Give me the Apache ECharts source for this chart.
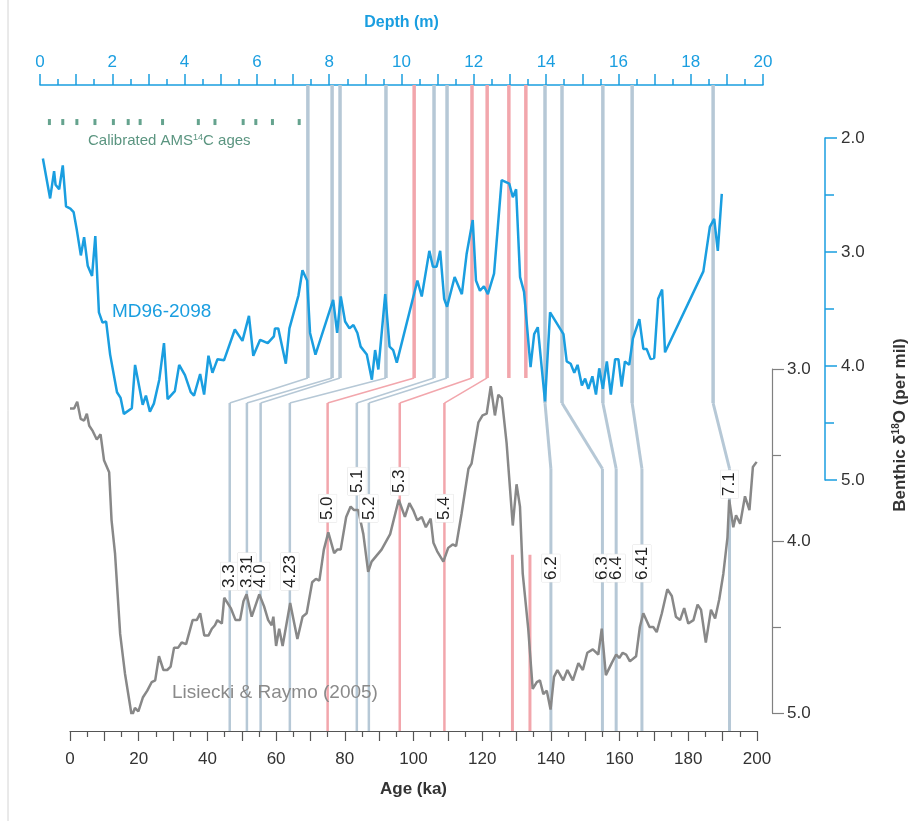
<!DOCTYPE html>
<html>
<head>
<meta charset="utf-8">
<script src="https://cdn.jsdelivr.net/npm/echarts@6/dist/echarts.min.js"></script>
<style>
  html, body { margin: 0; padding: 0; background: #fff; }
  #chart { width: 916px; height: 821px; }
</style>
</head>
<body>
<div id="chart"></div>
<script>
// MD96-2098 benthic d18O against core depth (m)
const mdDepth = [0.08,0.28,0.39,0.43,0.53,0.63,0.72,0.84,0.93,1.02,
  1.13,1.22,1.32,1.44,1.53,1.63,1.73,1.83,1.94,2.13,
  2.23,2.32,2.54,2.63,2.84,2.93,3.04,3.15,3.30,3.43,
  3.53,3.73,3.85,4.01,4.17,4.26,4.43,4.54,4.66,4.77,
  4.91,5.09,5.39,5.60,5.78,5.90,6.09,6.30,6.47,6.50,
  6.59,6.80,6.90,7.15,7.26,7.39,7.47,7.62,8.11,8.22,
  8.32,8.44,8.56,8.67,8.78,8.87,9.04,9.18,9.27,9.36,
  9.55,9.67,9.77,9.87,10.44,10.56,10.77,10.87,10.97,11.07,
  11.18,11.26,11.47,11.67,11.80,11.97,12.06,12.17,12.28,12.39,
  12.56,12.77,12.98,13.08,13.17,13.28,13.39,13.57,13.67,13.77,
  13.97,14.11,14.48,14.57,14.68,14.78,14.87,14.99,15.08,15.17,
  15.28,15.38,15.47,15.57,15.68,15.79,15.91,16.00,16.09,16.18,
  16.30,16.40,16.58,16.69,16.78,16.89,16.99,17.10,17.21,17.29,
  18.35,18.53,18.65,18.75,18.86]
const mdD18O = [2.18,2.53,2.29,2.41,2.45,2.24,2.60,2.62,2.65,2.81,
  3.03,2.87,3.12,3.21,2.86,3.53,3.62,3.61,3.90,4.23,
  4.28,4.42,4.37,3.99,4.34,4.26,4.40,4.33,4.12,3.80,
  4.29,4.22,3.99,4.08,4.23,4.26,4.07,4.25,3.91,4.06,
  3.94,3.95,3.68,3.78,3.56,3.91,3.77,3.80,3.74,3.67,
  3.67,3.98,3.67,3.38,3.16,3.25,3.71,3.90,3.42,3.71,
  3.39,3.61,3.67,3.64,3.71,3.83,3.90,4.12,3.86,4.03,
  3.37,3.83,3.86,3.97,3.25,3.39,2.99,3.13,3.13,2.99,
  3.41,3.48,3.22,3.37,3.02,2.72,3.25,3.34,3.30,3.37,
  3.19,2.37,2.40,2.52,2.45,3.22,3.35,4.01,3.72,3.66,
  4.31,3.53,3.72,3.96,3.98,4.06,3.99,4.17,4.11,4.20,
  4.09,4.25,4.02,4.20,3.96,4.25,3.94,3.94,4.18,3.96,
  3.99,3.76,3.59,3.85,3.85,3.94,3.93,3.41,3.33,3.88,
  3.17,2.78,2.71,2.99,2.49]

// Lisiecki & Raymo (2005) stack against age (ka)
const lrAge = [0,1.2,2.1,3.1,4.1,4.9,5.6,6.6,7.8,8.9,
  9.9,11.4,12.1,13.1,14.6,16.0,18.0,18.9,19.9,21.2,
  22.5,23.8,24.8,25.9,27.2,28.3,29.3,30.3,31.5,32.5,
  33.8,35.7,36.9,37.9,39.1,40.3,41.3,42.2,42.9,44.2,
  44.9,46.8,48.2,49.5,50.5,51.4,52.9,55.1,56.5,57.7,
  58.7,59.2,60.0,60.9,61.9,64.1,65.0,66.2,67.7,68.9,
  70.5,71.6,72.6,73.9,75.2,76.9,77.8,78.8,80.4,81.7,
  82.7,83.9,85.4,86.8,87.8,90.7,93.2,95.7,97.5,98.8,
  99.9,101.1,102.4,103.6,105.0,105.8,106.9,108.7,110.1,111.4,
  112.4,114.0,116.0,116.9,118.9,120.1,121.3,122.5,123.7,124.7,
  125.7,127.1,128.9,130.0,131.0,131.8,133.4,134.7,135.9,136.8,
  137.8,138.8,139.9,140.9,141.9,143.6,144.8,146.4,148.0,149.3,
  150.6,152.2,153.8,154.8,156.0,157.7,159.0,159.9,160.9,161.9,
  163.0,164.8,165.9,166.9,168.7,169.8,170.8,172.3,173.9,175.2,
  176.4,177.6,178.8,180.0,181.5,182.7,183.7,185.1,186.6,187.8,
  189.0,190.2,191.4,191.9,193.1,193.9,195.1,196.5,197.8,198.8,
  199.9]
const lrD18O = [3.23,3.23,3.19,3.29,3.30,3.26,3.33,3.36,3.41,3.38,
  3.53,3.60,3.88,4.07,4.54,4.77,5.02,4.97,4.99,4.91,
  4.87,4.82,4.81,4.67,4.75,4.75,4.73,4.62,4.62,4.59,
  4.60,4.46,4.46,4.42,4.55,4.55,4.51,4.49,4.46,4.48,
  4.33,4.39,4.46,4.46,4.35,4.31,4.44,4.31,4.38,4.46,
  4.49,4.44,4.61,4.51,4.61,4.36,4.45,4.57,4.44,4.42,
  4.24,4.22,4.23,4.05,3.95,4.07,4.05,4.05,3.86,3.80,
  3.82,3.82,3.96,4.18,4.12,4.05,3.96,3.76,3.86,3.78,
  3.82,3.88,3.86,3.92,3.87,4.01,4.06,4.12,4.04,4.02,
  4.03,3.84,3.58,3.55,3.31,3.27,3.26,3.10,3.27,3.15,
  3.17,3.43,3.91,3.67,3.80,4.19,4.51,4.86,4.82,4.81,
  4.89,4.87,4.98,4.79,4.75,4.81,4.75,4.81,4.71,4.75,
  4.65,4.63,4.66,4.51,4.78,4.71,4.66,4.68,4.65,4.66,
  4.70,4.67,4.50,4.42,4.50,4.50,4.53,4.42,4.28,4.32,
  4.44,4.46,4.39,4.48,4.46,4.37,4.40,4.59,4.40,4.45,
  4.34,4.19,3.98,3.76,3.92,3.85,3.90,3.74,3.82,3.57,
  3.54]

// calibrated AMS 14C age depths (m)
const amsDepth = [0.26,0.63,1.02,1.52,2.03,2.44,2.77,3.39,4.38,4.84,5.62,5.97,6.43,7.17]

// tie points: depth in core -> age in LR04, with MIS event names
const tieDepth = [7.41,8.08,8.30,9.57,10.35,10.90,11.26,11.95,12.37,13.97,14.44,15.57,16.38,18.62]
const tieAge = [46.5,51.5,55.5,64,75,83.5,87,96,109,140,155,159,166.5,192]
const tieName = ['3.3','3.31','4.0','4.23','5.0','5.1','5.2','5.3','5.4','6.2','6.3','6.4','6.41','7.1']
const tieRed = ['5.0','5.3','5.4']
const redDepthOnly = [12.97,13.44]
const redAgeOnly = [128.8,133.9]

// layout (pixels / axis values for placement only)
const FONT = '"Liberation Sans", Arial, sans-serif'
const BLUE = '#1a9ee0'
const GREY_LINE = '#b6c8d6'
const RED_LINE = '#f2a6ac'
const depthAxisOffset = 53
const ageAxisOffset = 18
const labelLevel = [4.285,4.285,4.285,4.285,3.89,3.733,3.89,3.733,3.89,4.238,4.238,4.238,4.238,3.75]
const bendLeft = [3.052, 3.198]
const bendRight = [3.198, 3.58]
const redAgeTop = 4.08
const amsLevel = 1.86

const chart = echarts.init(document.getElementById('chart'))

const option = {
  animation: false,
  textStyle: { fontFamily: FONT },
  grid: [
    { left: 40, right: 153, top: 138, bottom: 341, outerBoundsMode: 'none' },
    { left: 70, right: 159, top: 369, bottom: 108, outerBoundsMode: 'none' }
  ],
  xAxis: [
    {
      type: 'value', gridIndex: 0, position: 'top', offset: depthAxisOffset,
      min: 0, max: 20, interval: 1,
      name: 'Depth (m)', nameLocation: 'middle', nameGap: 54,
      nameTextStyle: { color: BLUE, fontSize: 16, fontWeight: 'bold' },
      axisLine: { show: true, onZero: false, lineStyle: { color: BLUE, width: 1.5 } },
      axisTick: { show: true, length: 11, lineStyle: { color: BLUE, width: 1.5 } },
      minorTick: { show: true, splitNumber: 2, length: 6, lineStyle: { color: BLUE, width: 1.5 } },
      axisLabel: { color: BLUE, fontSize: 17, margin: 14, formatter: v => (v % 2 === 0 ? String(v) : '') },
      splitLine: { show: false }
    },
    {
      type: 'value', gridIndex: 1, position: 'bottom', offset: ageAxisOffset,
      min: 0, max: 200, interval: 10,
      name: 'Age (ka)', nameLocation: 'middle', nameGap: 50,
      nameTextStyle: { color: '#333', fontSize: 17, fontWeight: 'bold' },
      axisLine: { show: true, onZero: false, lineStyle: { color: '#555', width: 1.2 } },
      axisTick: { show: true, length: 10, lineStyle: { color: '#555', width: 1.2 } },
      minorTick: { show: true, splitNumber: 2, length: 6, lineStyle: { color: '#555', width: 1.2 } },
      axisLabel: { color: '#333', fontSize: 17, margin: 20, formatter: v => (v % 20 === 0 ? String(v) : '') },
      splitLine: { show: false }
    }
  ],
  yAxis: [
    {
      type: 'value', gridIndex: 0, position: 'right', offset: 62,
      min: 2, max: 5, interval: 1, inverse: true,
      axisLine: { show: true, onZero: false, lineStyle: { color: BLUE, width: 1.5 } },
      axisTick: { show: true, length: 12, lineStyle: { color: BLUE, width: 1.5 } },
      minorTick: { show: true, splitNumber: 2, length: 9, lineStyle: { color: BLUE, width: 1.5 } },
      axisLabel: { color: '#333', fontSize: 17, margin: 16, formatter: v => v.toFixed(1) },
      splitLine: { show: false }
    },
    {
      type: 'value', gridIndex: 1, position: 'right', offset: 15,
      min: 3, max: 5, interval: 1, inverse: true,
      axisLine: { show: true, onZero: false, lineStyle: { color: '#808080', width: 1.2 } },
      axisTick: { show: true, length: 12, lineStyle: { color: '#808080', width: 1.2 } },
      minorTick: { show: true, splitNumber: 2, length: 9, lineStyle: { color: '#808080', width: 1.2 } },
      axisLabel: { color: '#333', fontSize: 17, margin: 15, formatter: v => v.toFixed(1) },
      splitLine: { show: false }
    }
  ],
  series: [
    {
      name: 'MD96-2098', type: 'line', xAxisIndex: 0, yAxisIndex: 0,
      data: mdDepth.map((d, i) => [d, mdD18O[i]]),
      symbol: 'none', z: 3,
      lineStyle: { color: BLUE, width: 2.5 }
    },
    {
      name: 'LR04', type: 'line', xAxisIndex: 1, yAxisIndex: 1,
      data: lrAge.map((a, i) => [a, lrD18O[i]]),
      symbol: 'none', z: 3,
      lineStyle: { color: '#888888', width: 2.5 }
    },
    {
      name: 'AMS', type: 'scatter', xAxisIndex: 0, yAxisIndex: 0,
      data: amsDepth.map(d => [d, amsLevel]),
      symbol: 'rect', symbolSize: [3, 6], clip: false,
      itemStyle: { color: '#3f8c72' }
    }
  ]
}
chart.setOption(option)

// tie lines and event labels, placed through the chart's own axes
const xD = d => chart.convertToPixel({ xAxisIndex: 0 }, d)
const xA = a => chart.convertToPixel({ xAxisIndex: 1 }, a)
const yB = v => chart.convertToPixel({ yAxisIndex: 0 }, v)
const yG = v => chart.convertToPixel({ yAxisIndex: 1 }, v)
const topY = yB(2) - depthAxisOffset
const botY = yG(5) + ageAxisOffset

const seg = (x1, y1, x2, y2, color, w) => ({
  type: 'line', z: 1, silent: true,
  shape: { x1, y1, x2, y2 },
  style: { stroke: color, lineWidth: w }
})

const graphics = []
graphics.push(seg(8, 0, 8, 821, '#d4d4d4', 1))

tieDepth.forEach((d, i) => {
  const color = tieRed.includes(tieName[i]) ? RED_LINE : GREY_LINE
  const right = tieAge[i] > 130
  const bend = right ? bendRight : bendLeft
  const x1 = xD(d), x2 = xA(tieAge[i])
  const y1 = yG(bend[0]), y2 = yG(bend[1])
  graphics.push(seg(x1, topY, x1, y1, color, 3.5))
  graphics.push(seg(x1, y1, x2, y2, color, right ? 3 : 1.5))
  graphics.push(seg(x2, y2, x2, botY, color, right ? 3 : 2.5))
  graphics.push({
    type: 'text', z: 10, silent: true,
    x: x2, y: yG(labelLevel[i]), rotation: Math.PI / 2,
    style: {
      text: tieName[i], fill: '#222', font: '17px ' + FONT,
      align: 'left', verticalAlign: 'middle',
      backgroundColor: '#fff', borderColor: '#e2e2e2', borderWidth: 0.5,
      padding: [1, 2, 0, 2]
    }
  })
})
redDepthOnly.forEach(d => graphics.push(seg(xD(d), topY, xD(d), yG(bendLeft[0]), RED_LINE, 3.5)))
redAgeOnly.forEach(a => graphics.push(seg(xA(a), yG(redAgeTop), xA(a), botY, RED_LINE, 3)))

graphics.push({
  type: 'text', z: 10, silent: true, x: 88, y: 141,
  style: {
    text: 'Calibrated AMS{sup|14}C ages', fill: '#5b9580', font: '15px ' + FONT,
    verticalAlign: 'middle',
    rich: { sup: { fontSize: 9, fill: '#5b9580', padding: [0, 0, 7, 0] } }
  }
})
graphics.push({
  type: 'text', z: 10, silent: true, x: 112, y: 312,
  style: { text: 'MD96-2098', fill: BLUE, font: '19px ' + FONT, verticalAlign: 'middle' }
})
graphics.push({
  type: 'text', z: 10, silent: true, x: 172, y: 693,
  style: { text: 'Lisiecki & Raymo (2005)', fill: '#8a8a8a', font: '19px ' + FONT, verticalAlign: 'middle' }
})
graphics.push({
  type: 'text', z: 10, silent: true, x: 900, y: 425, rotation: Math.PI / 2,
  style: {
    text: 'Benthic δ{sup|18}O (per mil)', fill: '#333', font: 'bold 17px ' + FONT,
    align: 'center', verticalAlign: 'middle',
    rich: { sup: { fontSize: 10, fontWeight: 'bold', fill: '#333', padding: [0, 0, 8, 0] } }
  }
})

chart.setOption({ graphic: graphics })

window.addEventListener('resize', () => chart.resize())
</script>
</body>
</html>
